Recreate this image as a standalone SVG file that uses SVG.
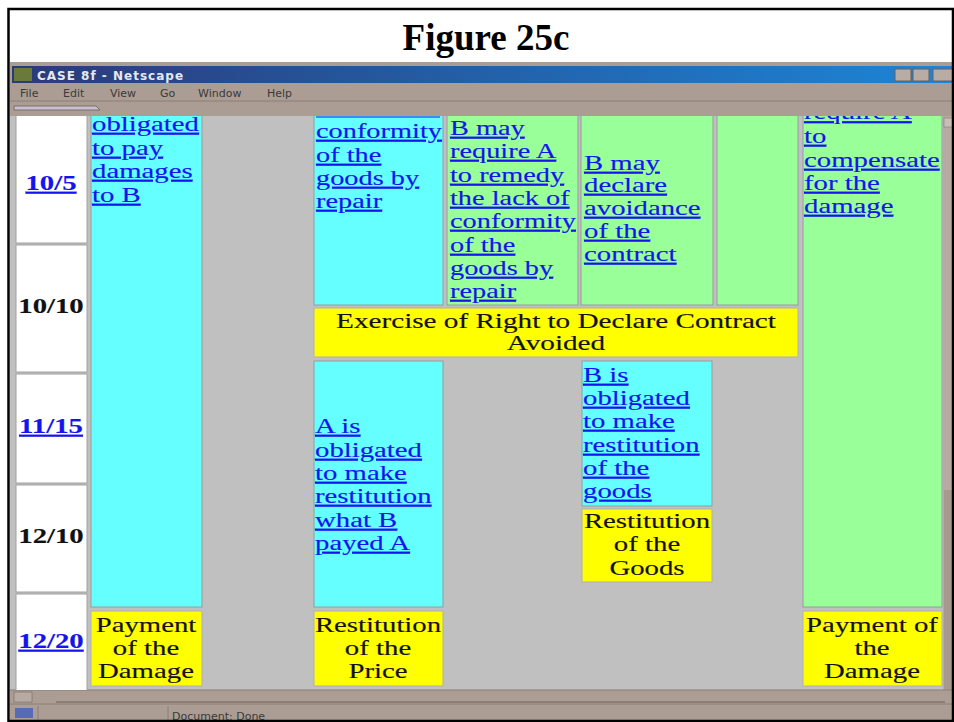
<svg xmlns="http://www.w3.org/2000/svg" width="954" height="722" viewBox="0 0 954 722">
<style>
.t{font-family:"Liberation Serif","Times New Roman",serif;font-size:21px}
.lk{fill:#1414ee;stroke:#1414ee;stroke-width:0.15;text-decoration:underline}
.bk{fill:#111;stroke:#111;stroke-width:0.15}
.m{text-anchor:middle}
.b{font-weight:bold}
.cy{fill:#66ffff;stroke:#9a9a9a;stroke-width:1}
.gr{fill:#99ff99;stroke:#9a9a9a;stroke-width:1}
.ye{fill:#ffff00;stroke:#b0b0b0;stroke-width:1}
.wh{fill:#ffffff;stroke:#a0a0a0;stroke-width:1}
.ch{fill:#ab9d94}
.ui{font-family:"DejaVu Sans","Liberation Sans",sans-serif;font-size:11px;fill:#3a3a3a}
</style>
<defs>
<linearGradient id="tb" x1="0" y1="0" x2="1" y2="0">
<stop offset="0" stop-color="#2b3a78"/>
<stop offset="1" stop-color="#1c86d8"/>
</linearGradient>
<clipPath id="ca"><rect x="10" y="116" width="933" height="574"/></clipPath>
</defs>
<rect width="954" height="722" fill="#ffffff"/>
<g id="title"><text x="486" y="50" class="t b m" style="font-size:37px" fill="#000">Figure 25c</text></g>
<g id="window">
<rect x="10" y="62" width="944" height="660" class="ch"/>
<rect x="12" y="66" width="942" height="17" fill="url(#tb)"/>
<rect x="14" y="68" width="18" height="13" fill="#6a7a3a"/>
<text x="37" y="80" font-family="'DejaVu Sans',sans-serif" font-size="12" font-weight="bold" letter-spacing="1" fill="#e8e8f0">CASE 8f - Netscape</text>
<rect x="895" y="69" width="16" height="12" fill="#b8aca4" stroke="#6a5e58"/>
<rect x="913" y="69" width="16" height="12" fill="#b8aca4" stroke="#6a5e58"/>
<rect x="933" y="69" width="21" height="12" fill="#b8aca4" stroke="#6a5e58"/>
<text x="20" y="97" class="ui">File</text><text x="63" y="97" class="ui">Edit</text><text x="110" y="97" class="ui">View</text><text x="160" y="97" class="ui">Go</text><text x="198" y="97" class="ui">Window</text><text x="267" y="97" class="ui">Help</text>
<line x1="10" y1="101" x2="954" y2="101" stroke="#8a7e78"/>
<path d="M14 106 H96 L100 110 H14 Z" fill="#c8c0d0" stroke="#7a6e68"/>
<rect x="10" y="116" width="933" height="574" fill="#c0c0c0"/>
<rect x="943" y="116" width="11" height="574" fill="#b6aaa2"/>
<rect x="944" y="118" width="10" height="9" fill="#c8beb6" stroke="#7a6e68" stroke-width="0.5"/>
<rect x="944" y="490" width="10" height="200" fill="#a8998f"/>
<line x1="10" y1="690" x2="954" y2="690" stroke="#8a7e78"/>
<rect x="14" y="692" width="18" height="10" fill="#b6aaa2" stroke="#6a5e58" stroke-width="0.5"/>
<line x1="56" y1="702" x2="945" y2="702" stroke="#6a5e58"/>
<line x1="10" y1="704" x2="954" y2="704" stroke="#8a7e78"/>
<rect x="15" y="708" width="18" height="10" fill="#5a6ab8"/>
<line x1="38" y1="706" x2="38" y2="722" stroke="#8a7e78"/>
<line x1="168" y1="706" x2="168" y2="722" stroke="#8a7e78"/>
<text x="172" y="720" class="ui" font-size="10">Document: Done</text>
</g>
<g clip-path="url(#ca)">
<g id="dates">
<rect x="16" y="110" width="71" height="133" class="wh"/>
<rect x="16" y="245" width="71" height="127" class="wh"/>
<rect x="16" y="374" width="71" height="109" class="wh"/>
<rect x="16" y="485" width="71" height="107" class="wh"/>
<rect x="16" y="594" width="71" height="100" class="wh"/>
<g transform="translate(51,0) scale(1.37,1)">
<text x="0" y="190" class="t b m lk">10/5</text>
<text x="0" y="313" class="t b m bk">10/10</text>
<text x="0" y="433" class="t b m lk">11/15</text>
<text x="0" y="543" class="t b m bk">12/10</text>
<text x="0" y="648" class="t b m lk">12/20</text>
</g>
</g>
<g id="a-damages">
<rect x="91" y="110" width="111" height="497" class="cy"/>
<text transform="translate(92,0) scale(1.37,1)" class="t lk"><tspan x="0" y="131">obligated</tspan><tspan x="0" y="155">to pay</tspan><tspan x="0" y="178">damages</tspan><tspan x="0" y="202">to B</tspan></text>
</g>
<g id="a-payment">
<rect x="91" y="611" width="111" height="75" class="ye"/>
<text transform="translate(146,0) scale(1.37,1)" class="t bk m"><tspan x="0" y="632">Payment</tspan><tspan x="0" y="655">of the</tspan><tspan x="0" y="678">Damage</tspan></text>
</g>
<g id="c-repair">
<rect x="314" y="110" width="129" height="195" class="cy"/>
<line x1="316" y1="117" x2="440" y2="117" stroke="#1414ee" stroke-width="1.2"/>
<text transform="translate(316,0) scale(1.35,1)" class="t lk"><tspan x="0" y="138">conformity</tspan><tspan x="0" y="162">of the</tspan><tspan x="0" y="185">goods by</tspan><tspan x="0" y="208">repair</tspan></text>
</g>
<g id="d-require">
<rect x="447" y="110" width="131" height="195" class="gr"/>
<text transform="translate(450,0) scale(1.35,1)" class="t lk"><tspan x="0" y="135">B may</tspan><tspan x="0" y="158">require A</tspan><tspan x="0" y="182">to remedy</tspan><tspan x="0" y="205">the lack of</tspan><tspan x="0" y="228">conformity</tspan><tspan x="0" y="252">of the</tspan><tspan x="0" y="275">goods by</tspan><tspan x="0" y="298">repair</tspan></text>
</g>
<g id="e-avoid">
<rect x="581" y="110" width="132" height="195" class="gr"/>
<text transform="translate(584,0) scale(1.37,1)" class="t lk"><tspan x="0" y="170">B may</tspan><tspan x="0" y="192">declare</tspan><tspan x="0" y="215">avoidance</tspan><tspan x="0" y="238">of the</tspan><tspan x="0" y="261">contract</tspan></text>
</g>
<g id="f-empty">
<rect x="717" y="110" width="81" height="195" class="gr"/>
</g>
<g id="exercise">
<rect x="314" y="308" width="484" height="49" class="ye"/>
<text transform="translate(556,0) scale(1.39,1)" class="t bk m"><tspan x="0" y="328">Exercise of Right to Declare Contract</tspan><tspan x="0" y="350">Avoided</tspan></text>
</g>
<g id="g-restitution">
<rect x="314" y="361" width="129" height="246" class="cy"/>
<text transform="translate(315,0) scale(1.37,1)" class="t lk"><tspan x="0" y="433">A is</tspan><tspan x="0" y="457">obligated</tspan><tspan x="0" y="480">to make</tspan><tspan x="0" y="503">restitution</tspan><tspan x="0" y="527">what B</tspan><tspan x="0" y="550">payed A</tspan></text>
</g>
<g id="g-price">
<rect x="314" y="611" width="129" height="75" class="ye"/>
<text transform="translate(378,0) scale(1.37,1)" class="t bk m"><tspan x="0" y="632">Restitution</tspan><tspan x="0" y="655">of the</tspan><tspan x="0" y="678">Price</tspan></text>
</g>
<g id="h-restitution">
<rect x="582" y="361" width="130" height="145" class="cy"/>
<text transform="translate(583,0) scale(1.37,1)" class="t lk"><tspan x="0" y="382">B is</tspan><tspan x="0" y="405">obligated</tspan><tspan x="0" y="428">to make</tspan><tspan x="0" y="452">restitution</tspan><tspan x="0" y="475">of the</tspan><tspan x="0" y="498">goods</tspan></text>
</g>
<g id="h-goods">
<rect x="582" y="509" width="130" height="73" class="ye"/>
<text transform="translate(647,0) scale(1.37,1)" class="t bk m"><tspan x="0" y="528">Restitution</tspan><tspan x="0" y="551">of the</tspan><tspan x="0" y="575">Goods</tspan></text>
</g>
<g id="r-compensate">
<rect x="803" y="110" width="139" height="497" class="gr"/>
<text transform="translate(804,0) scale(1.37,1)" class="t lk"><tspan x="0" y="119.5">require A</tspan><tspan x="0" y="143">to</tspan><tspan x="0" y="167">compensate</tspan><tspan x="0" y="190">for the</tspan><tspan x="0" y="213">damage</tspan></text>
</g>
<g id="r-payment">
<rect x="803" y="611" width="139" height="75" class="ye"/>
<text transform="translate(872,0) scale(1.37,1)" class="t bk m"><tspan x="0" y="632">Payment of</tspan><tspan x="0" y="655">the</tspan><tspan x="0" y="678">Damage</tspan></text>
</g>
</g>
<g id="connectors"></g>
<rect x="8.5" y="9" width="944.5" height="712" fill="none" stroke="#000" stroke-width="2.5"/>
</svg>
